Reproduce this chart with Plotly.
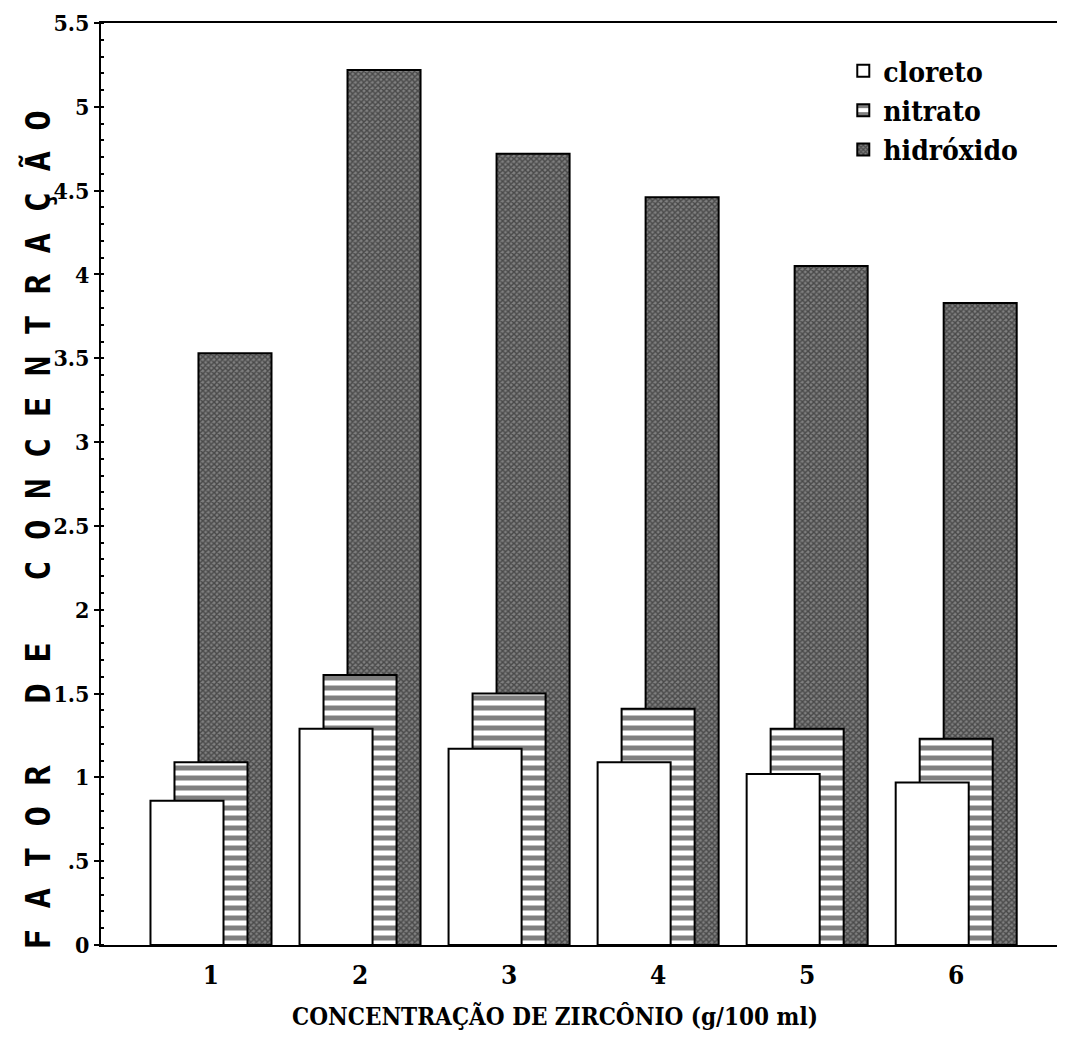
import plotly.graph_objects as go

# dados
concentracao = [1, 2, 3, 4, 5, 6]
cloreto = [0.86, 1.29, 1.17, 1.09, 1.02, 0.97]
nitrato = [1.09, 1.61, 1.50, 1.41, 1.29, 1.23]
hidroxido = [3.53, 5.22, 4.72, 4.46, 4.05, 3.83]

y_ticks = [0, 0.5, 1, 1.5, 2, 2.5, 3, 3.5, 4, 4.5, 5, 5.5]
y_ticktext = ["0", ".5", "1", "1.5", "2", "2.5", "3", "3.5", "4", "4.5", "5", "5.5"]

FONT = "DejaVu Serif Condensed, Liberation Sans Narrow, DejaVu Serif, serif"

largura = 0.49
passo = 0.161

fig = go.Figure()

# ordem de desenho: hidróxido atrás, cloreto na frente
fig.add_trace(go.Bar(
    x=concentracao, y=hidroxido, name="hidróxido",
    width=largura, offset=-largura / 2 + passo,
    marker=dict(color="#5e5e5e", line=dict(color="black", width=2),
                pattern=dict(shape="x", fgcolor="#111111", bgcolor="#808080",
                             size=4, solidity=0.6)),
    legendrank=3,
))
fig.add_trace(go.Bar(
    x=concentracao, y=nitrato, name="nitrato",
    width=largura, offset=-largura / 2,
    marker=dict(color="white", line=dict(color="black", width=2),
                pattern=dict(shape="-", fgcolor="black", bgcolor="white",
                             size=10, solidity=0.5)),
    legendrank=2,
))
fig.add_trace(go.Bar(
    x=concentracao, y=cloreto, name="cloreto",
    width=largura, offset=-largura / 2 - passo,
    marker=dict(color="white", line=dict(color="black", width=2)),
    legendrank=1,
))

fig.update_layout(
    width=1057, height=1044,
    margin=dict(l=93, r=0, t=15, b=107),
    barmode="overlay",
    plot_bgcolor="white", paper_bgcolor="white",
    font=dict(family=FONT, color="black", size=20, weight="bold"),
    legend=dict(
        x=0.77, y=0.975, xanchor="left", yanchor="top",
        font=dict(family=FONT, size=28, color="black", weight="bold"),
        bgcolor="rgba(0,0,0,0)", tracegroupgap=0,
        itemwidth=30,
    ),
    xaxis=dict(
        range=[0.262, 6.73], tickvals=concentracao,
        ticktext=[str(c) for c in concentracao],
        showgrid=False, zeroline=False, automargin=False,
        showline=True, linecolor="black", linewidth=2, mirror=True,
        ticks="", ticklabelstandoff=6,
        tickfont=dict(family=FONT, size=26, color="black", weight="bold"),
    ),
    yaxis=dict(
        range=[0, 5.5], tickvals=y_ticks, ticktext=y_ticktext,
        showgrid=False, zeroline=False, automargin=False,
        showline=True, linecolor="black", linewidth=2,
        ticks="outside", ticklen=5, tickwidth=2, tickcolor="black",
        minor=dict(dtick=0.1, ticks="inside", ticklen=3, tickcolor="black"),
        tickfont=dict(family=FONT, size=23, color="black", weight="bold"),
    ),
)

fig.add_annotation(
    text="F A T O R   D E   C O N C E N T R A Ç Ã O",
    xref="paper", yref="paper", x=-0.065, y=0.45,
    xanchor="center", yanchor="middle",
    textangle=-90, showarrow=False,
    font=dict(family="DejaVu Sans Mono, monospace", size=34, color="black",
              weight="bold"),
)
fig.add_annotation(
    text="CONCENTRAÇÃO DE ZIRCÔNIO (g/100 ml)",
    xref="paper", yref="paper", x=0.471, y=-0.078,
    xanchor="center", yanchor="middle",
    showarrow=False,
    font=dict(family=FONT, size=24, color="black", weight="bold"),
)

fig.write_html("out.html")
